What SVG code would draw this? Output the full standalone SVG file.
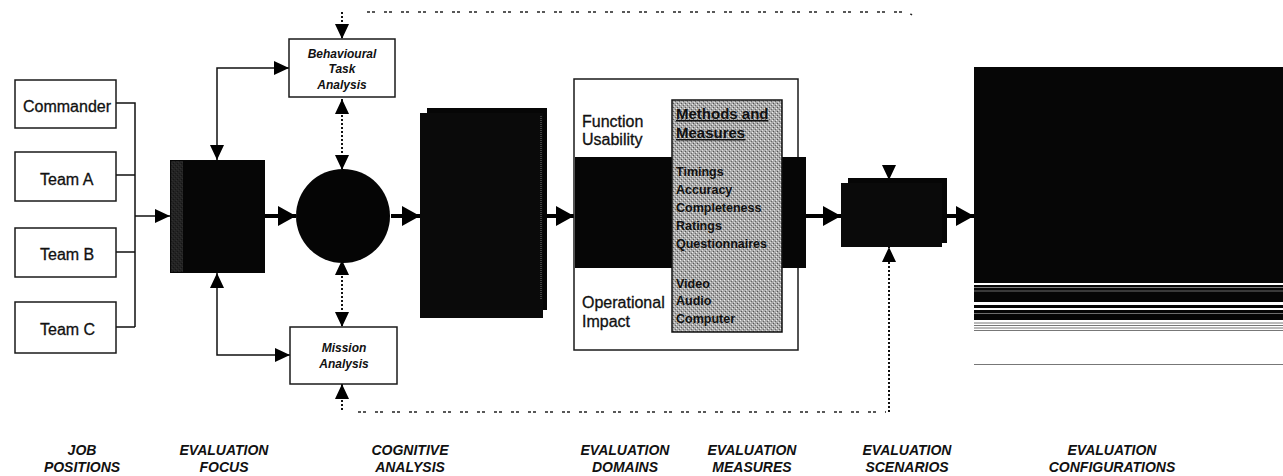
<svg xmlns="http://www.w3.org/2000/svg" width="1283" height="476" viewBox="0 0 1283 476">
<style>
.box{fill:#fff;stroke:#1a1a1a;stroke-width:1.5}
.dark{fill:#060606}
.t16{font-family:"Liberation Sans",Arial,sans-serif;font-size:16px;fill:#111;stroke:#111;stroke-width:0.3}
.tsm{font-family:"Liberation Sans",Arial,sans-serif;font-size:12px;font-weight:bold;font-style:italic;fill:#111;text-anchor:middle}
.tpan{font-family:"Liberation Sans",Arial,sans-serif;font-size:12.5px;font-weight:bold;fill:#111}
.thead{font-family:"Liberation Sans",Arial,sans-serif;font-size:15px;font-weight:bold;fill:#111;text-decoration:underline}
.lab{font-family:"Liberation Sans",Arial,sans-serif;font-size:14px;font-weight:bold;font-style:italic;fill:#111;text-anchor:middle}
.thin{fill:none;stroke:#111;stroke-width:1.5}
.thick{fill:none;stroke:#000;stroke-width:4}
.dot{fill:none;stroke:#111;stroke-width:2;stroke-dasharray:2 2}
.dash{fill:none;stroke:#222;stroke-width:1.5;stroke-dasharray:3 2 3 9}
</style>
<defs>
<marker id="big" markerUnits="userSpaceOnUse" markerWidth="18" markerHeight="20" refX="18" refY="10" orient="auto"><path d="M0,0L18,10L0,20z" fill="#000"/></marker>
<marker id="sm" markerUnits="userSpaceOnUse" markerWidth="15" markerHeight="14" refX="15" refY="7" orient="auto-start-reverse"><path d="M0,0L15,7L0,14z" fill="#000"/></marker>
<pattern id="stip" width="4" height="4" patternUnits="userSpaceOnUse">
<rect width="4" height="4" fill="#a9a9a9"/>
<rect x="0" y="0" width="1" height="1" fill="#eee"/>
<rect x="2" y="2" width="1" height="1" fill="#ddd"/>
<rect x="1" y="3" width="1" height="1" fill="#555"/>
<rect x="3" y="1" width="1" height="1" fill="#666"/>
</pattern>
</defs>

<g id="connectors">
<path class="thin" d="M116,103H135V327M116,175H135M116,252H135M116,327H135"/>
<path class="thin" d="M135,216H170" marker-end="url(#sm)"/>
<path class="thin" d="M289,68H217V160" marker-start="url(#sm)" marker-end="url(#sm)"/>
<path class="thin" d="M290,355H217V273" marker-start="url(#sm)" marker-end="url(#sm)"/>
<path class="thick" d="M265,216H296" marker-end="url(#big)"/>
<path class="thick" d="M391,216H420" marker-end="url(#big)"/>
<path class="thick" d="M547,216H574" marker-end="url(#big)"/>
<path class="thick" d="M805,216H841" marker-end="url(#big)"/>
<path class="thick" d="M947,216H974" marker-end="url(#big)"/>
<path class="dot" d="M342,99V170" marker-start="url(#sm)" marker-end="url(#sm)"/>
<path class="dot" d="M342,260V327" marker-start="url(#sm)" marker-end="url(#sm)"/>
<path class="dot" d="M342,12V39" marker-end="url(#sm)"/>
<path class="dash" d="M367,12H908l4,3"/>
<path class="dot" d="M889,168V180" marker-end="url(#sm)"/>
<path class="dot" d="M342,384V412" marker-start="url(#sm)"/>
<path class="dash" d="M358,412H886"/>
<path class="dot" d="M889,412V247" marker-end="url(#sm)"/>
</g>

<g id="job-commander"><rect class="box" x="15" y="80" width="101" height="48"/><text class="t16" x="23" y="112">Commander</text></g>
<g id="job-team-a"><rect class="box" x="15" y="152" width="101" height="49"/><text class="t16" x="40" y="185">Team A</text></g>
<g id="job-team-b"><rect class="box" x="15" y="228" width="101" height="49"/><text class="t16" x="40" y="260">Team B</text></g>
<g id="job-team-c"><rect class="box" x="15" y="302" width="101" height="51"/><text class="t16" x="40" y="335">Team C</text></g>

<g id="evaluation-focus"><rect class="dark" x="170" y="160" width="95" height="113"/><rect x="171" y="161" width="12" height="111" fill="url(#stip)" opacity="0.18"/></g>

<g id="behavioural-task-analysis"><rect class="box" x="289" y="39" width="106" height="58"/>
<text class="tsm" x="342" y="58">Behavioural</text><text class="tsm" x="342" y="73">Task</text><text class="tsm" x="342" y="89">Analysis</text></g>

<g id="cognitive-circle"><circle cx="343" cy="216" r="47" fill="#050505"/></g>

<g id="mission-analysis"><rect class="box" x="290" y="327" width="107" height="57"/>
<text class="tsm" x="344" y="352">Mission</text><text class="tsm" x="344" y="368">Analysis</text></g>

<g id="cognitive-output"><rect class="dark" x="427" y="108" width="120" height="202"/><rect x="420" y="113" width="123" height="205" fill="#0a0a0a"/><line x1="541" y1="116" x2="541" y2="300" stroke="#777" stroke-width="1" stroke-dasharray="1 1"/></g>

<g id="evaluation-domains">
<rect class="box" x="574" y="79" width="224" height="271"/>
<rect class="dark" x="575" y="157" width="231" height="111"/>
<text class="t16" x="582" y="127">Function</text>
<text class="t16" x="582" y="145">Usability</text>
<text class="t16" x="582" y="308">Operational</text>
<text class="t16" x="582" y="327">Impact</text>
</g>

<g id="evaluation-measures">
<rect x="672" y="100" width="110" height="232" fill="url(#stip)" stroke="#111" stroke-width="1.5"/>
<text class="thead" x="676" y="119">Methods and</text>
<text class="thead" x="676" y="138">Measures</text>
<text class="tpan" x="676" y="176">Timings</text>
<text class="tpan" x="676" y="194">Accuracy</text>
<text class="tpan" x="676" y="212">Completeness</text>
<text class="tpan" x="676" y="230">Ratings</text>
<text class="tpan" x="676" y="248">Questionnaires</text>
<text class="tpan" x="676" y="288">Video</text>
<text class="tpan" x="676" y="305">Audio</text>
<text class="tpan" x="676" y="323">Computer</text>
</g>

<g id="evaluation-scenarios"><rect class="dark" x="848" y="178" width="99" height="65"/><rect x="841" y="183" width="101" height="64" fill="#0a0a0a"/></g>

<g id="evaluation-configurations">
<rect class="dark" x="974" y="67" width="309" height="216"/>
<rect class="dark" x="974" y="285" width="309" height="17"/>
<line x1="974" y1="287.5" x2="1283" y2="287.5" stroke="#999" stroke-width="0.8"/>
<line x1="974" y1="291" x2="1283" y2="291" stroke="#888" stroke-width="0.8"/>
<rect class="dark" x="974" y="305" width="309" height="3"/>
<rect class="dark" x="974" y="310" width="309" height="10"/>
<line x1="974" y1="313.5" x2="1283" y2="313.5" stroke="#888" stroke-width="0.8"/>
<path d="M974,323H1283M974,325.5H1283M974,328H1283M974,330.5H1283" stroke="#777" stroke-width="1"/>
<line x1="974" y1="364.5" x2="1283" y2="364.5" stroke="#777" stroke-width="1.2"/>
</g>

<g id="labels">
<text class="lab" x="82" y="455">JOB</text><text class="lab" x="82" y="472">POSITIONS</text>
<text class="lab" x="224" y="455">EVALUATION</text><text class="lab" x="224" y="472">FOCUS</text>
<text class="lab" x="410" y="455">COGNITIVE</text><text class="lab" x="410" y="472">ANALYSIS</text>
<text class="lab" x="625" y="455">EVALUATION</text><text class="lab" x="625" y="472">DOMAINS</text>
<text class="lab" x="752" y="455">EVALUATION</text><text class="lab" x="752" y="472">MEASURES</text>
<text class="lab" x="907" y="455">EVALUATION</text><text class="lab" x="907" y="472">SCENARIOS</text>
<text class="lab" x="1112" y="455">EVALUATION</text><text class="lab" x="1112" y="472">CONFIGURATIONS</text>
</g>
</svg>
